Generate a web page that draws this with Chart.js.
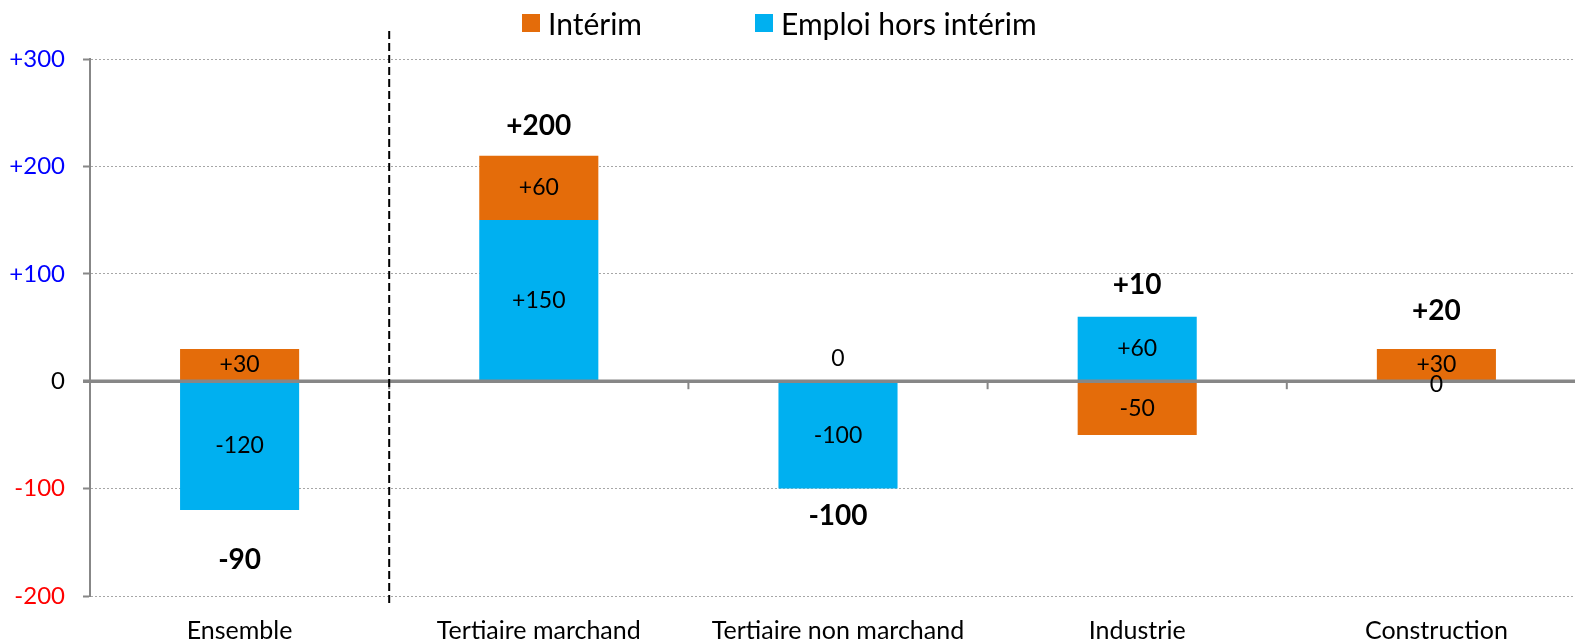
<!DOCTYPE html>
<html lang="fr">
<head>
<meta charset="utf-8">
<title>Intérim et emploi hors intérim</title>
<script src="https://cdn.jsdelivr.net/npm/chart.js@4.4.1/dist/chart.umd.min.js"></script>
<style>
  html, body { margin: 0; padding: 0; background: #fff; overflow: hidden; }
  #zone { position: relative; width: 1586px; height: 642px; }
</style>
</head>
<body>
<div id="zone"><canvas id="graphique"></canvas></div>
<script>
// données
const secteurs = ['Ensemble', 'Tertiaire marchand', 'Tertiaire non marchand', 'Industrie', 'Construction'];
const interim = [30, 60, 0, -50, 30];
const emploiHorsInterim = [-120, 150, -100, 60, 0];
const totaux = [-90, 200, -100, 10, 20];
const ticksY = [-200, -100, 0, 100, 200, 300];

const ORANGE = '#E46C0A';
const BLEU = '#00B0F0';
const GRIS = '#878787';
const POLICE = 'Lato, "Open Sans", sans-serif';
const decalTotaux = [50, 30, 27, 32, 38]; // écart (px) entre le total et le bout de la barre

function signe(v) {
  return v > 0 ? '+' + v : String(v);
}

// ligne du zéro, petites graduations, séparateur pointillé
const axeZero = {
  id: 'axeZero',
  afterDatasetsDraw(chart) {
    const ctx = chart.ctx;
    const x = chart.scales.x, y = chart.scales.y;
    const area = chart.chartArea;
    const y0 = y.getPixelForValue(0);
    ctx.save();
    ctx.strokeStyle = GRIS;
    ctx.lineWidth = 3.5;
    ctx.beginPath();
    ctx.moveTo(area.left - 7, y0);
    ctx.lineTo(area.right, y0);
    ctx.stroke();
    ctx.lineWidth = 2;
    for (let i = 0; i < secteurs.length; i++) {
      const bx = i === 0 ? area.left : (x.getPixelForValue(i - 1) + x.getPixelForValue(i)) / 2;
      ctx.beginPath();
      ctx.moveTo(bx, y0);
      ctx.lineTo(bx, y0 + 8);
      ctx.stroke();
    }
    // séparateur Ensemble / secteurs
    const sx = (x.getPixelForValue(0) + x.getPixelForValue(1)) / 2;
    ctx.strokeStyle = '#000';
    ctx.lineWidth = 2;
    ctx.setLineDash([8, 4]);
    ctx.beginPath();
    ctx.moveTo(sx, area.top - 28);
    ctx.lineTo(sx, area.bottom + 9);
    ctx.stroke();
    ctx.restore();
  }
};

// étiquettes des segments et des totaux
const etiquettes = {
  id: 'etiquettes',
  afterDatasetsDraw(chart) {
    const ctx = chart.ctx;
    const y0 = chart.scales.y.getPixelForValue(0);
    ctx.save();
    ctx.fillStyle = '#000';
    ctx.textAlign = 'center';
    ctx.textBaseline = 'middle';
    ctx.font = '23px ' + POLICE;
    chart.data.datasets.forEach((ds, d) => {
      const meta = chart.getDatasetMeta(d);
      meta.data.forEach((barre, i) => {
        const v = ds.data[i];
        let ty = (barre.y + barre.base) / 2;
        if (v === 0) {
          const autre = chart.data.datasets[1 - d].data[i];
          ty = autre < 0 ? y0 - 23 : y0 + 3;
        }
        ctx.fillText(signe(v), barre.x, ty);
      });
    });
    ctx.font = 'bold 28px ' + POLICE;
    totaux.forEach((t, i) => {
      let haut = y0, bas = y0;
      chart.data.datasets.forEach((ds, d) => {
        const b = chart.getDatasetMeta(d).data[i];
        haut = Math.min(haut, b.y, b.base);
        bas = Math.max(bas, b.y, b.base);
      });
      const bx = chart.getDatasetMeta(0).data[i].x;
      const ty = t >= 0 ? haut - decalTotaux[i] : bas + decalTotaux[i];
      ctx.fillText(signe(t), bx, ty);
    });
    ctx.restore();
  }
};

// légende en haut
const legende = {
  id: 'legende',
  afterDraw(chart) {
    const ctx = chart.ctx;
    const items = [
      { texte: 'Intérim', couleur: ORANGE, x: 522 },
      { texte: 'Emploi hors intérim', couleur: BLEU, x: 755 }
    ];
    ctx.save();
    ctx.font = '30px ' + POLICE;
    ctx.textBaseline = 'middle';
    ctx.textAlign = 'left';
    items.forEach(it => {
      ctx.fillStyle = it.couleur;
      ctx.fillRect(it.x, 14, 18, 18);
      ctx.fillStyle = '#000';
      ctx.fillText(it.texte, it.x + 26, 25);
    });
    ctx.restore();
  }
};

const ctx = document.getElementById('graphique').getContext('2d');
new Chart(ctx, {
  type: 'bar',
  data: {
    labels: secteurs,
    datasets: [
      { label: 'Emploi hors intérim', data: emploiHorsInterim, backgroundColor: BLEU },
      { label: 'Intérim', data: interim, backgroundColor: ORANGE }
    ]
  },
  options: {
    responsive: true,
    maintainAspectRatio: false,
    animation: false,
    layout: { padding: { top: 59, right: 0, bottom: 0, left: 0 } },
    datasets: {
      bar: { categoryPercentage: 1, barPercentage: 0.398 }
    },
    scales: {
      x: {
        stacked: true,
        grid: { display: false },
        border: { display: false },
        afterFit(scale) {
          scale.height = 46;
        },
        ticks: {
          color: '#000',
          font: { family: POLICE, size: 25 },
          padding: 12,
          maxRotation: 0,
          autoSkip: false
        }
      },
      y: {
        stacked: true,
        min: -200,
        max: 300,
        afterBuildTicks(scale) {
          scale.ticks = ticksY.map(v => ({ value: v }));
        },
        afterFit(scale) {
          scale.width = 90;
        },
        grid: {
          color: c => c.tick && c.tick.value === 0 ? 'rgba(0,0,0,0)' : '#A6A6A6',
          lineWidth: 1,
          tickLength: 7,
          tickColor: GRIS,
          tickWidth: 2
        },
        border: { display: true, color: GRIS, width: 2, dash: [2, 2] },
        ticks: {
          padding: 18,
          font: { family: POLICE, size: 24 },
          color: c => c.tick.value > 0 ? '#0000FF' : (c.tick.value < 0 ? '#FF0000' : '#000'),
          callback: v => signe(v)
        }
      }
    },
    plugins: {
      legend: { display: false },
      tooltip: { enabled: false }
    }
  },
  plugins: [axeZero, etiquettes, legende]
});
</script>
</body>
</html>
